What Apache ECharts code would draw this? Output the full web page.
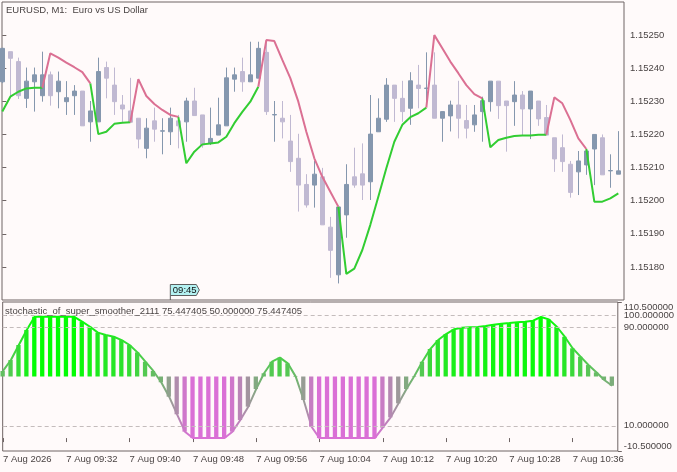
<!DOCTYPE html>
<html>
<head>
<meta charset="utf-8">
<script src="https://cdn.jsdelivr.net/npm/echarts@6.0.0/dist/echarts.min.js"></script>
<style>
html,body{margin:0;padding:0;background:#fffafa;}
#c{width:677px;height:472px;}
</style>
</head>
<body>
<div id="c"></div>
<script>
// ---------- data ----------
const tickLabels = ['7 Aug 2026','7 Aug 09:32','7 Aug 09:40','7 Aug 09:48','7 Aug 09:56','7 Aug 10:04','7 Aug 10:12','7 Aug 10:20','7 Aug 10:28','7 Aug 10:36'];
const tickBars = [0,8,16,24,32,40,48,56,64,72];
const priceTicks = [1.1518,1.1519,1.1520,1.1521,1.1522,1.1523,1.1524,1.1525];
const stochTicks = [10,90,100];
const stochEdgeTicks = [-10.5,110.5];
const stochLevels = [10,90,100];
const markerBar = 21;
const markerText = '09:45';

const open = [1.152359,1.152450,1.152420,1.152309,1.152359,1.152317,1.152380,1.152329,1.152299,1.152317,
1.152331,1.152238,1.152238,1.152402,1.152349,1.152289,1.152271,1.152249,1.152158,1.152241,
1.152210,1.152208,1.152241,1.152238,1.152301,1.152259,1.152173,1.152198,1.152226,1.152367,
1.152390,1.152359,1.152370,1.152448,1.152259,1.152249,1.152180,1.152128,1.152049,1.152047,
1.152072,1.151920,1.151776,1.151957,1.152072,1.152081,1.152057,1.152208,1.152246,1.152349,
1.152309,1.152279,1.152349,1.152339,1.152349,1.152249,1.152256,1.152289,1.152242,1.152229,
1.152269,1.152299,1.152361,1.152301,1.152299,1.152319,1.152277,1.152301,1.152251,1.152190,
1.152160,1.152110,1.152087,1.152108,1.152156,1.152190,1.152090,1.152080];
const close = [1.152460,1.152430,1.152317,1.152361,1.152380,1.152380,1.152317,1.152361,1.152311,1.152331,
1.152226,1.152271,1.152390,1.152370,1.152299,1.152277,1.152237,1.152186,1.152219,1.152216,
1.152211,1.152249,1.152226,1.152301,1.152257,1.152168,1.152188,1.152229,1.152371,1.152380,
1.152359,1.152380,1.152460,1.152269,1.152260,1.152238,1.152118,1.152047,1.151987,1.152080,
1.151927,1.151850,1.151981,1.152049,1.152047,1.152047,1.152201,1.152249,1.152349,1.152309,
1.152269,1.152362,1.152339,1.152340,1.152249,1.152269,1.152289,1.152249,1.152219,1.152259,
1.152302,1.152361,1.152287,1.152287,1.152319,1.152277,1.152331,1.152247,1.152198,1.152126,
1.152118,1.152025,1.152120,1.152150,1.152200,1.152078,1.152091,1.152090];
const high = [1.152462,1.152450,1.152432,1.152402,1.152402,1.152450,1.152390,1.152390,1.152361,1.152349,
1.152331,1.152301,1.152432,1.152420,1.152402,1.152319,1.152371,1.152249,1.152249,1.152281,
1.152249,1.152281,1.152259,1.152311,1.152341,1.152259,1.152281,1.152311,1.152402,1.152402,
1.152432,1.152480,1.152480,1.152485,1.152301,1.152301,1.152259,1.152202,1.152080,1.152120,
1.152099,1.151951,1.151981,1.152110,1.152160,1.152173,1.152319,1.152309,1.152370,1.152349,
1.152362,1.152388,1.152410,1.152448,1.152448,1.152269,1.152302,1.152362,1.152289,1.152289,
1.152314,1.152361,1.152361,1.152301,1.152361,1.152331,1.152331,1.152301,1.152289,1.152190,
1.152200,1.152120,1.152150,1.152150,1.152200,1.152200,1.152140,1.152210];
const low = [1.152355,1.152314,1.152307,1.152280,1.152269,1.152299,1.152287,1.152279,1.152259,1.152259,
1.152226,1.152178,1.152238,1.152309,1.152259,1.152238,1.152237,1.152158,1.152128,1.152178,
1.152140,1.152168,1.152158,1.152178,1.152257,1.152160,1.152168,1.152198,1.152226,1.152329,
1.152329,1.152359,1.152370,1.152259,1.152178,1.152188,1.152087,1.151967,1.151979,1.151979,
1.151927,1.151767,1.151750,1.151888,1.152039,1.152002,1.152002,1.152208,1.152238,1.152238,
1.152238,1.152229,1.152279,1.152284,1.152249,1.152178,1.152209,1.152188,1.152188,1.152208,
1.152178,1.152269,1.152247,1.152148,1.152226,1.152196,1.152186,1.152226,1.152198,1.152087,
1.152087,1.152009,1.152017,1.152078,1.152047,1.152078,1.152039,1.152080];

const trendUp = [1.152269,1.152314,1.152329,1.152339,1.152341,1.152341,null,null,null,null,
null,1.152354,1.152201,1.152208,1.152232,1.152235,1.152237,null,null,null,
null,null,1.152253,1.152113,1.152148,1.152170,1.152173,1.152176,1.152193,1.152234,
1.152268,1.152299,1.152344,null,null,null,null,null,null,null,
null,null,1.151982,1.151779,1.151795,1.151851,1.151927,1.152012,1.152098,1.152178,
1.152229,1.152252,1.152264,1.152281,null,null,null,null,null,null,
1.152309,1.152161,1.152183,1.152190,1.152195,1.152197,1.152197,1.152199,1.152199,null,
null,null,null,1.152156,1.151997,1.151997,1.152007,1.152022];
const trendDown = [null,null,null,null,null,1.152341,1.152445,1.152432,1.152417,1.152403,
1.152388,1.152354,null,null,null,null,1.152237,1.152367,1.152316,1.152292,
1.152274,1.152259,1.152253,null,null,null,null,null,null,null,
null,null,1.152344,1.152485,1.152482,1.152425,1.152370,1.152299,1.152208,1.152128,
1.152072,1.152027,1.151982,null,null,null,null,null,null,null,
null,null,null,1.152281,1.152500,1.152460,1.152420,1.152385,1.152349,1.152322,
1.152309,null,null,null,null,null,null,null,1.152199,1.152312,
1.152294,1.152244,1.152188,1.152156,null,null,null,null];

const stoch = [54.5,63.4,75.6,87.8,98.5,98.5,98.5,98.5,98.5,98.5,
94.5,90.4,85.6,83.7,82.3,79.6,75.6,69.6,62.0,54.5,
45.3,33.6,19.3,5.2,0,0,0,0,0,5.2,
14.7,25.5,39.8,52.6,62.0,65.3,60.7,49.9,30.9,9.2,
0,0,0,0,0,0,0,0,8.4,16.8,
28.2,39.8,50.4,62.0,72.3,79.6,84.5,88.3,89.6,89.9,
90.2,91.0,92.1,92.9,93.4,94.0,94.5,95.3,98.3,96.4,
90.4,82.3,72.9,66.1,59.3,53.4,47.2,42.5];
const stochBase = 50;

// ---------- styles ----------
const FONT = 'Liberation Sans';
const TXT = '#4a4444';
const FRAME = '#6e6464';
const BULL = '#8597ae';
const BEAR = '#c0b9d2';
const X_MIN = -0.04, X_MAX = 77.71;

const candleData = open.map((o,i)=>[i, o, close[i], low[i], high[i]]);
const upData = trendUp.map((v,i)=>[i, v]);
const downData = trendDown.map((v,i)=>[i, v]);
const stochData = stoch.map((v,i)=>[i, v]);

const chart = echarts.init(document.getElementById('c'), null, {renderer:'canvas'});
const labelBase = {show: true, margin: 6, fontSize: 9.5, color: TXT, fontFamily: FONT, hideOverlap: false};
const option = {
  animation: false,
  backgroundColor: '#fffafa',
  textStyle: {fontFamily: FONT},
  title: [
    {text: 'EURUSD, M1:  Euro vs US Dollar', left: 6, top: 5, padding: 0,
     textStyle: {fontSize: 9.5, fontWeight: 'normal', color: TXT, fontFamily: FONT}},
    {text: 'stochastic_of_super_smoother_2111 75.447405 50.000000 75.447405', left: 5, top: 306, padding: 0,
     textStyle: {fontSize: 9.5, fontWeight: 'normal', color: TXT, fontFamily: FONT}}
  ],
  grid: [
    {left: 2, top: 2, width: 622, height: 298, show: true, borderColor: FRAME, borderWidth: 1, backgroundColor: 'transparent'},
    {left: 2, top: 302, width: 622, height: 149, show: true, borderColor: FRAME, borderWidth: 1, backgroundColor: 'transparent'}
  ],
  xAxis: [
    {type: 'value', gridIndex: 0, min: X_MIN, max: X_MAX,
     axisLine: {show: false}, axisTick: {show: false}, axisLabel: {show: false}, splitLine: {show: false}},
    {type: 'value', gridIndex: 1, min: X_MIN, max: X_MAX,
     axisLine: {show: false},
     axisTick: {show: true, length: 4, customValues: tickBars, lineStyle: {color: FRAME}},
     axisLabel: Object.assign({}, labelBase, {customValues: tickBars, align: 'left', margin: 3, showMinLabel: true,
       formatter: v => { const i = tickBars.indexOf(Math.round(v)); return i >= 0 ? tickLabels[i] : ''; }}),
     splitLine: {show: false}}
  ],
  yAxis: [
    {type: 'value', gridIndex: 0, position: 'right', min: 1.1517, max: 1.1526, scale: true,
     axisLine: {show: false},
     axisTick: {show: true, length: 4, customValues: priceTicks, lineStyle: {color: FRAME}},
     axisLabel: Object.assign({}, labelBase, {customValues: priceTicks, formatter: v => v.toFixed(5)}),
     splitLine: {show: false}},
    {type: 'value', gridIndex: 1, position: 'right', min: -10.5, max: 110.5,
     axisLine: {show: false},
     axisTick: {show: true, length: 4, customValues: stochTicks, lineStyle: {color: FRAME}},
     axisLabel: Object.assign({}, labelBase, {customValues: stochTicks, formatter: v => v.toFixed(6)}),
     splitLine: {show: false}},
    {type: 'value', gridIndex: 1, position: 'right', min: -10.5, max: 110.5,
     axisLine: {show: false},
     axisTick: {show: true, length: 4, customValues: stochEdgeTicks, lineStyle: {color: FRAME}},
     axisLabel: Object.assign({}, labelBase, {customValues: stochEdgeTicks, showMinLabel: true, showMaxLabel: true,
       verticalAlignMinLabel: 'bottom', verticalAlignMaxLabel: 'top', formatter: v => v.toFixed(6)}),
     splitLine: {show: false}}
  ],
  visualMap: [{
    type: 'continuous', show: false, seriesIndex: [3, 4], dimension: 1, min: 0, max: 100,
    inRange: {color: ['#DA70D6', '#00FF00']}
  }],
  series: [
    {type: 'candlestick', xAxisIndex: 0, yAxisIndex: 0, data: candleData, barWidth: 4,
     itemStyle: {color: BULL, color0: BEAR, borderColor: BULL, borderColor0: BEAR, borderColorDoji: BULL, borderWidth: 1}},
    {type: 'line', xAxisIndex: 0, yAxisIndex: 0, data: upData, showSymbol: false, symbol: 'none', connectNulls: false,
     lineStyle: {color: '#32cd32', width: 2}, z: 5},
    {type: 'line', xAxisIndex: 0, yAxisIndex: 0, data: downData, showSymbol: false, symbol: 'none', connectNulls: false,
     lineStyle: {color: '#db7093', width: 2}, z: 5},
    {type: 'custom', xAxisIndex: 1, yAxisIndex: 1, data: stochData,
     renderItem: function (params, api) {
       const x = api.value(0), v = api.value(1);
       const p0 = api.coord([x, stochBase]);
       const p1 = api.coord([x, v]);
       const top = Math.min(p0[1], p1[1]);
       const h = Math.abs(p0[1] - p1[1]);
       return {type: 'rect', shape: {x: p0[0] - 2.5, y: top, width: 4.3, height: Math.max(h, 0.5)},
               style: {fill: api.visual('color')}};
     }, z: 2},
    {type: 'line', xAxisIndex: 1, yAxisIndex: 1, data: stochData, showSymbol: false, symbol: 'none',
     lineStyle: {width: 2}, z: 4,
     markLine: {silent: true, symbol: ['none', 'none'], label: {show: false},
       lineStyle: {color: '#c4bcbc', type: [4, 3], width: 1},
       data: stochLevels.map(l => ({yAxis: l}))}}
  ]
};
chart.setOption(option);

const px = chart.convertToPixel({xAxisIndex: 0}, markerBar);
chart.setOption({
  graphic: [
    {type: 'polygon', z: 100, shape: {points: [[px, 284.5], [px + 26, 284.5], [px + 29, 290], [px + 26, 295.5], [px, 295.5]]},
     style: {fill: '#b4f2f2', stroke: '#5e5e5e', lineWidth: 1}},
    {type: 'line', z: 100, shape: {x1: px, y1: 295.5, x2: px, y2: 300}, style: {stroke: '#5e5e5e', lineWidth: 1}},
    {type: 'text', z: 101, x: px + 2.5, y: 290.5,
     style: {text: markerText, fill: '#111', font: '9.5px "Liberation Sans"', verticalAlign: 'middle', align: 'left'}}
  ]
});
</script>
</body>
</html>
